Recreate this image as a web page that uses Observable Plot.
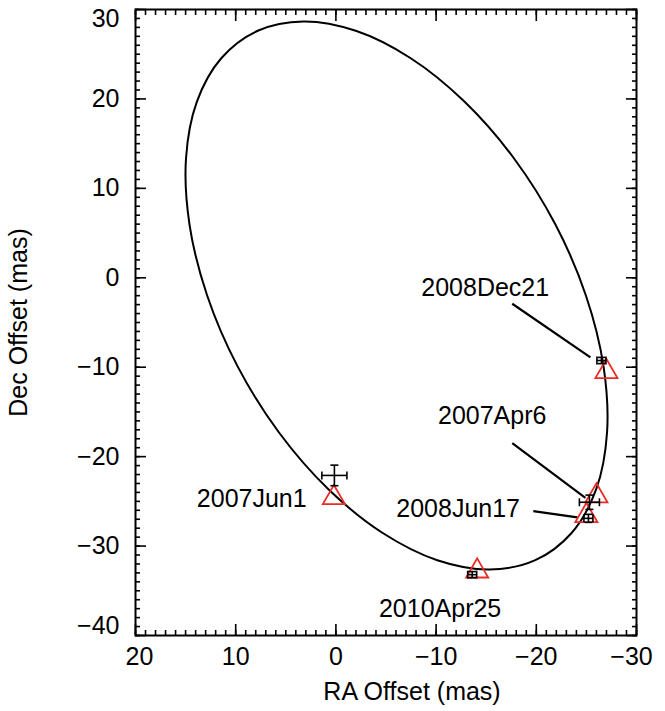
<!DOCTYPE html>
<html><head><meta charset="utf-8">
<script src="https://cdn.jsdelivr.net/npm/d3@7"></script>
<script src="https://cdn.jsdelivr.net/npm/@observablehq/plot@0.6"></script>
<style>body{margin:0;background:#fff}</style>
</head><body><div id="chart"></div>
<script>
// Orbit curve (RA offset, Dec offset in mas)
const orbitRA  = [3.23, -1.98, -7.47, -12.85, -17.78, -21.91, -24.95, -26.71, -27.06, -25.98, -23.54, -19.90,
                  -15.33, -10.12, -4.63, 0.75, 5.68, 9.81, 12.85, 14.61, 14.96, 13.88, 11.44, 7.80];
const orbitDec = [28.66, 27.62, 24.55, 19.68, 13.34, 5.95, -1.98, -9.91, -17.30, -23.64, -28.51, -31.58,
                  -32.62, -31.58, -28.51, -23.64, -17.30, -9.91, -1.98, 5.95, 13.34, 19.68, 24.55, 27.62];

// Epochs
const epochs   = ["2007Apr6", "2007Jun1", "2008Jun17", "2008Dec21", "2010Apr25"];
// Observed positions with errors
const obsRA    = [-25.3, 0.15, -25.2, -26.5, -13.6];
const obsDec   = [-25.1, -22.1, -26.9, -9.25, -33.2];
const errRA    = [1.0, 1.25, 0.45, 0.45, 0.45];
const errDec   = [0.8, 1.15, 0.45, 0.35, 0.35];
// Model positions (triangles)
const modelRA  = [-26.0, 0.2, -25.0, -27.0, -14.1];
const modelDec = [-24.4, -24.6, -26.6, -10.5, -32.8];
// Label positions
const labelRA  = [-15.6, 8.4, -12.2, -14.9, -10.4];
const labelDec = [-15.4, -24.7, -25.9, -1.1, -37.0];
// Leader lines (null = none)
const leadRA1  = [-17.6, null, -19.7, -17.6, null];
const leadDec1 = [-18.5, null, -26.1, -2.9, null];
const leadRA2  = [-24.9, null, -24.1, -25.4, null];
const leadDec2 = [-24.6, null, -26.8, -8.9, null];

// Axis ticks
const xTicks = [20, 10, 0, -10, -20, -30];
const yTicks = [30, 20, 10, 0, -10, -20, -30, -40];
const xMinor = d3.range(-30, 21, 1);
const yMinor = d3.range(-40, 31, 1);

const orbit = orbitRA.map((x, i) => ({x, y: orbitDec[i]}));
const obs = epochs.map((e, i) => ({e, x: obsRA[i], y: obsDec[i], ex: errRA[i], ey: errDec[i],
  mx: modelRA[i], my: modelDec[i], lx: labelRA[i], ly: labelDec[i],
  x1: leadRA1[i], y1: leadDec1[i], x2: leadRA2[i], y2: leadDec2[i]}));
const leaders = obs.filter(d => d.x1 != null);

const fmt = d => d < 0 ? "\u2212" + Math.abs(d) : String(d);
const vcap = {draw(ctx) { ctx.moveTo(0, -4); ctx.lineTo(0, 4); }};
const hcap = {draw(ctx) { ctx.moveTo(-4, 0); ctx.lineTo(4, 0); }};
const font = "'Liberation Sans', Arial, Helvetica, sans-serif";
const TFS = 25;

const xMid = xTicks.slice(1, -1), yMid = yTicks.slice(1, -1);

const chart = Plot.plot({
  width: 665, height: 711,
  marginLeft: 135, marginRight: 29, marginTop: 9, marginBottom: 76,
  x: {domain: [20, -30]},
  y: {domain: [-40, 30]},
  style: {fontFamily: font, fontSize: TFS + "px", color: "black", background: "white", overflow: "visible"},
  marks: [
    // minor ticks
    Plot.axisX(xMinor, {anchor: "bottom", tickSize: -5, text: null, label: null, strokeWidth: 1.6}),
    Plot.axisX(xMinor, {anchor: "top", tickSize: -5, text: null, label: null, strokeWidth: 1.6}),
    Plot.axisY(yMinor, {anchor: "left", tickSize: -5, text: null, label: null, strokeWidth: 1.6}),
    Plot.axisY(yMinor, {anchor: "right", tickSize: -5, text: null, label: null, strokeWidth: 1.6}),
    // major ticks
    Plot.axisX(xTicks, {anchor: "bottom", tickSize: -11, text: null, label: null, strokeWidth: 1.6}),
    Plot.axisX(xTicks, {anchor: "top", tickSize: -11, text: null, label: null, strokeWidth: 1.6}),
    Plot.axisY(yTicks, {anchor: "left", tickSize: -11, text: null, label: null, strokeWidth: 1.6}),
    Plot.axisY(yTicks, {anchor: "right", tickSize: -11, text: null, label: null, strokeWidth: 1.6}),
    // tick labels
    Plot.axisX(xMid, {anchor: "bottom", tickSize: 0, tickPadding: 12, tickFormat: fmt, fontSize: TFS,
      label: "RA Offset (mas)", labelAnchor: "center", labelOffset: 64, labelArrow: "none"}),
    Plot.axisX([xTicks[0]], {anchor: "bottom", tickSize: 0, tickPadding: 12, tickFormat: fmt, fontSize: TFS, dx: 4, label: null}),
    Plot.axisX([xTicks[xTicks.length - 1]], {anchor: "bottom", tickSize: 0, tickPadding: 12, tickFormat: fmt, fontSize: TFS, dx: -5, label: null}),
    Plot.axisY(yMid, {anchor: "left", tickSize: 0, tickPadding: 16, tickFormat: fmt, fontSize: TFS,
      label: "Dec Offset (mas)", labelAnchor: "center", labelOffset: 126, labelArrow: "none"}),
    Plot.axisY([yTicks[0]], {anchor: "left", tickSize: 0, tickPadding: 16, tickFormat: fmt, fontSize: TFS, dy: 9, label: null}),
    Plot.axisY([yTicks[yTicks.length - 1]], {anchor: "left", tickSize: 0, tickPadding: 16, tickFormat: fmt, fontSize: TFS, dy: -10, label: null}),
    Plot.frame({stroke: "black", strokeWidth: 2}),
    // orbit
    Plot.line(orbit, {x: "x", y: "y", curve: "catmull-rom-closed", stroke: "black", strokeWidth: 2}),
    // leader lines
    Plot.link(leaders, {x1: "x1", y1: "y1", x2: "x2", y2: "y2", stroke: "black", strokeWidth: 2.2}),
    // model triangles
    Plot.dot(obs, {x: "mx", y: "my", symbol: "triangle", r: 8.2, stroke: "#ee2a24", strokeWidth: 1.8, fill: "none"}),
    // error bars
    Plot.link(obs, {x1: d => d.x - d.ex, x2: d => d.x + d.ex, y1: "y", y2: "y", stroke: "black", strokeWidth: 1.6}),
    Plot.link(obs, {x1: "x", x2: "x", y1: d => d.y - d.ey, y2: d => d.y + d.ey, stroke: "black", strokeWidth: 1.6}),
    Plot.dot(obs, {x: d => d.x - d.ex, y: "y", symbol: vcap, stroke: "black", strokeWidth: 1.6, r: 3}),
    Plot.dot(obs, {x: d => d.x + d.ex, y: "y", symbol: vcap, stroke: "black", strokeWidth: 1.6, r: 3}),
    Plot.dot(obs, {x: "x", y: d => d.y - d.ey, symbol: hcap, stroke: "black", strokeWidth: 1.6, r: 3}),
    Plot.dot(obs, {x: "x", y: d => d.y + d.ey, symbol: hcap, stroke: "black", strokeWidth: 1.6, r: 3}),
    // epoch labels
    Plot.text(obs, {x: "lx", y: "ly", text: "e", fontSize: 25, fill: "black", textAnchor: "middle", lineAnchor: "middle"})
  ]
});
// shift x title to match the reference placement
chart.querySelectorAll("text").forEach(t => {
  if (t.textContent === "RA Offset (mas)") t.setAttribute("dx", "26");
});
document.getElementById("chart").appendChild(chart);
</script>
</body></html>
